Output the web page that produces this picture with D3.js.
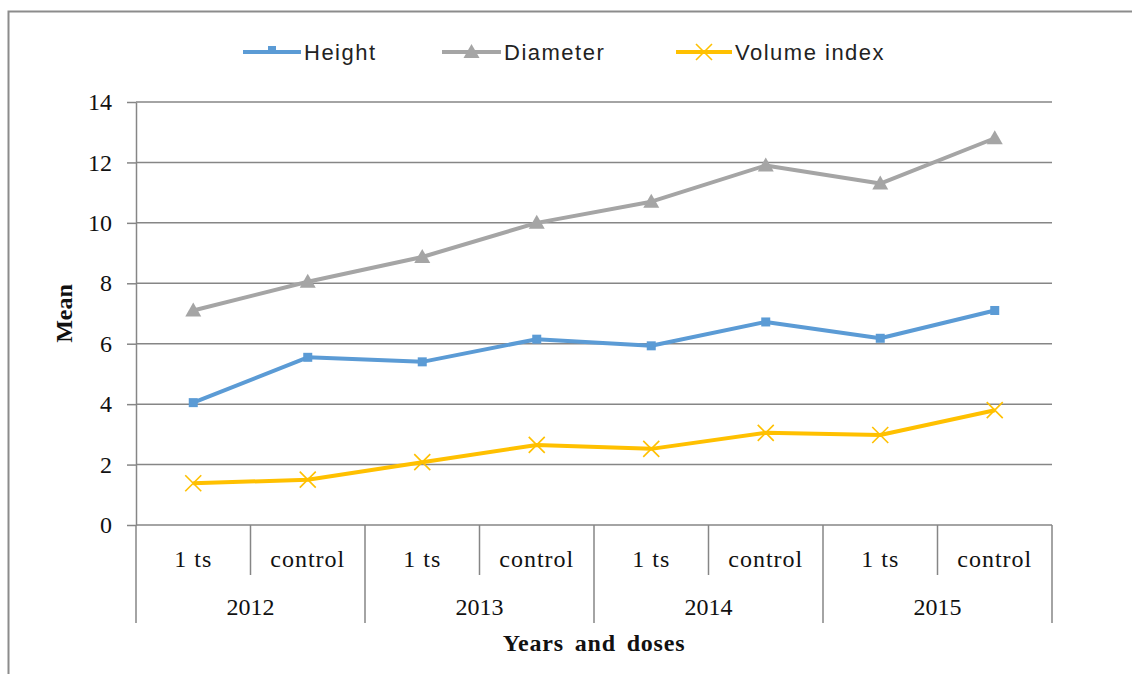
<!DOCTYPE html>
<html>
<head>
<meta charset="utf-8">
<script src="https://cdn.jsdelivr.net/npm/d3@7"></script>
<style>
body { margin: 0; background: #fff; }
svg { display: block; }
.serif { font-family: "Liberation Serif", "Times New Roman", serif; fill: #111; font-size: 24px; }
.leg { font-family: "Liberation Sans", Arial, sans-serif; font-size: 22px; fill: #222; letter-spacing: 1.5px; }
</style>
</head>
<body>
<div id="chart"></div>
<script>

// data
var years = ['2012', '2013', '2014', '2015'];
var doses = ['1 ts', 'control'];
var yTicks = [0, 2, 4, 6, 8, 10, 12, 14];
var heightVals = [4.05, 5.55, 5.4, 6.15, 5.93, 6.72, 6.18, 7.1];
var diameterVals = [7.1, 8.05, 8.87, 10.0, 10.7, 11.9, 11.3, 12.8];
var volumeVals = [1.38, 1.5, 2.08, 2.65, 2.52, 3.05, 2.98, 3.8];

var categories = [];
years.forEach(function(y) { doses.forEach(function(d) { categories.push(y + '|' + d); }); });

var series = [
  {name: 'Height', values: heightVals, color: '#5b9bd5', marker: 'square'},
  {name: 'Diameter', values: diameterVals, color: '#a5a5a5', marker: 'triangle'},
  {name: 'Volume index', values: volumeVals, color: '#ffc000', marker: 'x'}
];

var W = 1132, H = 674;
var pLeft = 136, pRight = 1052, pTop = 102, pBottom = 525;

var svg = d3.select('#chart').append('svg')
  .attr('width', W).attr('height', H);

// outer frame (only top and left edges fall inside the picture)
svg.append('rect')
  .attr('x', 8.5).attr('y', 11.5)
  .attr('width', 1300).attr('height', 900)
  .attr('fill', 'none').attr('stroke', '#8c8c8c').attr('stroke-width', 2);

var x = d3.scaleBand().domain(categories).range([pLeft, pRight]);
var y = d3.scaleLinear().domain([0, 14]).range([pBottom, pTop]);

// gridlines
svg.append('g').selectAll('line')
  .data(yTicks)
  .enter().append('line')
  .attr('x1', pLeft).attr('x2', pRight)
  .attr('y1', function(d) { return y(d); })
  .attr('y2', function(d) { return y(d); })
  .attr('stroke', '#868686').attr('stroke-width', 1.5);

// y axis
var yAxis = svg.append('g')
  .attr('transform', 'translate(' + pLeft + ',0)')
  .call(d3.axisLeft(y).tickValues(yTicks).tickSize(9).tickPadding(15).tickSizeOuter(0));
yAxis.select('.domain').attr('stroke', '#868686').attr('stroke-width', 1.5);
yAxis.selectAll('.tick line').attr('stroke', '#868686').attr('stroke-width', 1.5);
yAxis.selectAll('.tick text').attr('class', 'serif').attr('fill', '#111');

// two-level category axis
var cat = svg.append('g');
categories.forEach(function(c, i) {
  var x0 = x(c);
  var isGroup = (i % 2 === 0);
  cat.append('line')
    .attr('x1', x0).attr('x2', x0)
    .attr('y1', pBottom).attr('y2', isGroup ? 623 : 575)
    .attr('stroke', '#868686').attr('stroke-width', 1.5);
  cat.append('text')
    .attr('class', 'serif')
    .attr('x', x0 + x.bandwidth() / 2)
    .attr('y', 567)
    .attr('text-anchor', 'middle')
    .style('letter-spacing', '1px')
    .text(c.split('|')[1]);
});
cat.append('line')
  .attr('x1', pRight).attr('x2', pRight)
  .attr('y1', pBottom).attr('y2', 623)
  .attr('stroke', '#868686').attr('stroke-width', 1.5);
years.forEach(function(yr) {
  var a = x(yr + '|' + doses[0]);
  cat.append('text')
    .attr('class', 'serif')
    .attr('x', a + x.bandwidth())
    .attr('y', 615)
    .attr('text-anchor', 'middle')
    .text(yr);
});

// axis titles
svg.append('text')
  .attr('class', 'serif')
  .attr('x', (pLeft + pRight) / 2)
  .attr('y', 651)
  .attr('text-anchor', 'middle')
  .style('font-weight', 'bold')
  .style('letter-spacing', '0.8px')
  .style('word-spacing', '4px')
  .text('Years and doses');

svg.append('text')
  .attr('class', 'serif')
  .attr('transform', 'translate(72,' + ((pTop + pBottom) / 2) + ') rotate(-90)')
  .attr('text-anchor', 'middle')
  .style('font-weight', 'bold')
  .text('Mean');

// marker drawing
function drawMarker(g, type, cx, cy, color) {
  if (type === 'square') {
    g.append('rect')
      .attr('x', cx - 4.5).attr('y', cy - 4.5)
      .attr('width', 9).attr('height', 9)
      .attr('fill', color);
  } else if (type === 'triangle') {
    g.append('path')
      .attr('d', 'M' + cx + ',' + (cy - 8) + 'L' + (cx + 8) + ',' + (cy + 6) + 'L' + (cx - 8) + ',' + (cy + 6) + 'Z')
      .attr('fill', color);
  } else {
    g.append('path')
      .attr('d', 'M' + (cx - 8) + ',' + (cy - 8) + 'L' + (cx + 8) + ',' + (cy + 8) +
                 'M' + (cx + 8) + ',' + (cy - 8) + 'L' + (cx - 8) + ',' + (cy + 8))
      .attr('stroke', color).attr('stroke-width', 1.6).attr('fill', 'none');
  }
}

var line = d3.line()
  .x(function(d, i) { return x(categories[i]) + x.bandwidth() / 2; })
  .y(function(d) { return y(d); });

series.forEach(function(s) {
  var g = svg.append('g');
  g.append('path')
    .datum(s.values)
    .attr('d', line)
    .attr('fill', 'none')
    .attr('stroke', s.color)
    .attr('stroke-width', 4)
    .attr('stroke-linejoin', 'round');
  s.values.forEach(function(v, i) {
    drawMarker(g, s.marker, x(categories[i]) + x.bandwidth() / 2, y(v), s.color);
  });
});

// legend
var legX = [243, 442, 676];
var legW = [58, 59, 56];
var leg = svg.append('g');
series.forEach(function(s, i) {
  var lx = legX[i], ly = 52;
  var mid = lx + legW[i] / 2;
  leg.append('line')
    .attr('x1', lx).attr('x2', lx + legW[i])
    .attr('y1', ly).attr('y2', ly)
    .attr('stroke', s.color).attr('stroke-width', 4);
  if (s.marker === 'square') {
    leg.append('rect').attr('x', mid - 4).attr('y', ly - 6).attr('width', 8).attr('height', 6).attr('fill', s.color);
  } else {
    drawMarker(leg, s.marker, mid, ly, s.color);
  }
  leg.append('text')
    .attr('class', 'leg')
    .attr('x', lx + legW[i] + 3)
    .attr('y', ly + 8)
    .text(s.name);
});
</script>
</body>
</html>
